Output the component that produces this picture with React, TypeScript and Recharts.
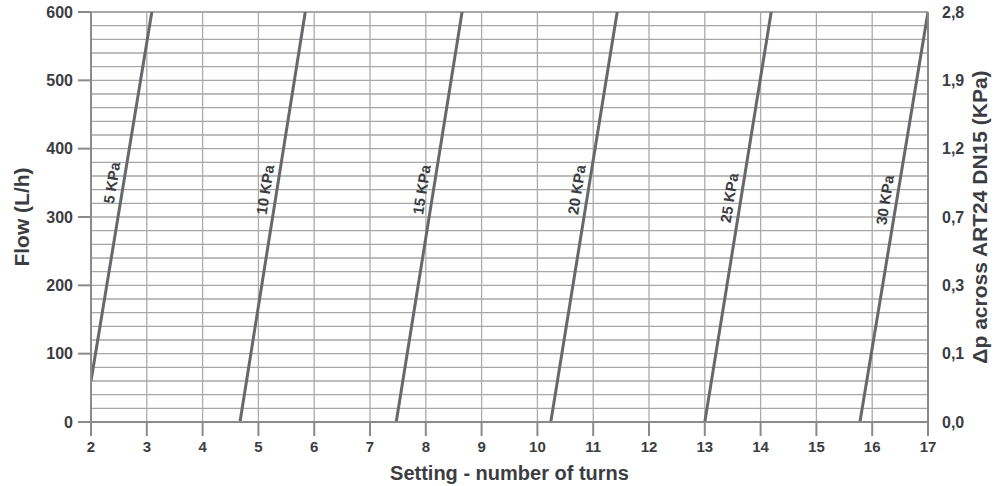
import React from "react";
import {
  ComposedChart,
  Line,
  XAxis,
  YAxis,
  ReferenceLine,
  ReferenceDot,
} from "recharts";

// turns axis
const turnTicks = [2, 3, 4, 5, 6, 7, 8, 9, 10, 11, 12, 13, 14, 15, 16, 17];
// flow axis
const flowTicks = [0, 100, 200, 300, 400, 500, 600];
const gridFlows = [20, 40, 60, 80, 100, 120, 140, 160, 180, 200, 220, 240, 260, 280, 300, 320, 340, 360, 380, 400, 420, 440, 460, 480, 500, 520, 540, 560, 580];
// right axis labels (Δp) at the same flow ticks
const dpLabels = ["0,0", "0,1", "0,3", "0,7", "1,2", "1,9", "2,8"];

// each curve: start / end point (turns, flow)
const curveNames = ["5 KPa", "10 KPa", "15 KPa", "20 KPa", "25 KPa", "30 KPa"];
const curveTurns = [
  [2.0, 3.09],
  [4.67, 5.84],
  [7.47, 8.65],
  [10.24, 11.43],
  [13.0, 14.19],
  [15.78, 17.0],
];
const curveFlows = [
  [60, 600],
  [0, 600],
  [0, 600],
  [0, 600],
  [0, 600],
  [0, 600],
];
// flow level where each curve's label sits
const labelFlows = [350, 340, 340, 340, 328, 325];

const TEXT = "#3b3d42";
const FONT = "'Liberation Sans', Arial, sans-serif";

const curves = curveNames.map((name, i) => ({
  name,
  points: curveTurns[i].map((x, j) => ({ x, y: curveFlows[i][j] })),
  labelY: labelFlows[i],
  labelX:
    curveTurns[i][0] +
    ((labelFlows[i] - curveFlows[i][0]) / (curveFlows[i][1] - curveFlows[i][0])) *
      (curveTurns[i][1] - curveTurns[i][0]),
}));

const RotLabel = (props: any) => {
  const { viewBox, value } = props;
  const cx = viewBox.x + viewBox.width / 2 - 12;
  const cy = viewBox.y + viewBox.height / 2;
  return (
    <text
      x={cx}
      y={cy}
      transform={`rotate(-81 ${cx} ${cy})`}
      textAnchor="middle"
      dominantBaseline="central"
      fill={TEXT}
      fontSize={15}
      fontWeight="bold"
      fontFamily={FONT}
    >
      {value}
    </text>
  );
};

const tickStyle = { fill: TEXT, fontSize: 16, fontWeight: "bold", fontFamily: FONT };
const titleStyle = { fill: TEXT, fontSize: 21, fontWeight: "bold", fontFamily: FONT, textAnchor: "middle" };

export default function App() {
  return (
    <div style={{ position: "absolute", left: 0, top: 0, background: "#fff" }}>
      <ComposedChart width={998} height={486} margin={{ top: 12, right: 0, bottom: 0, left: 0 }}>
        <XAxis
          type="number"
          dataKey="x"
          domain={[2, 17]}
          ticks={turnTicks}
          interval={0}
          allowDataOverflow
          stroke="#8a8a8a"
          strokeWidth={2}
          tickSize={14}
          tick={{ ...tickStyle, fontSize: 15, dy: 3 }}
          height={64}
          label={{
            value: "Setting - number of turns",
            position: "insideBottom",
            offset: 6,
            style: { ...titleStyle, fontSize: 20 },
          }}
        />
        <YAxis
          yAxisId="flow"
          type="number"
          domain={[0, 600]}
          ticks={flowTicks}
          interval={0}
          allowDataOverflow
          width={91}
          stroke="#8a8a8a"
          strokeWidth={2}
          tickSize={13}
          tick={{ ...tickStyle, dx: -3 }}
          label={{
            value: "Flow (L/h)",
            angle: -90,
            position: "insideLeft",
            offset: 22,
            style: titleStyle,
          }}
        />
        <YAxis
          yAxisId="dp"
          orientation="right"
          type="number"
          domain={[0, 600]}
          ticks={flowTicks}
          interval={0}
          allowDataOverflow
          width={70}
          stroke="#8a8a8a"
          strokeWidth={2}
          tickLine={false}
          tickMargin={8}
          tick={tickStyle}
          tickFormatter={(v: number) => dpLabels[flowTicks.indexOf(v)]}
          label={{
            value: "Δp across ART24 DN15 (KPa)",
            angle: -90,
            position: "insideRight",
            offset: 18,
            style: titleStyle,
          }}
        />
        {gridFlows.map((f) => (
          <ReferenceLine key={`h${f}`} yAxisId="flow" y={f} stroke="#a6a6a6" strokeWidth={1.3} />
        ))}
        <ReferenceLine yAxisId="flow" y={600} stroke="#8a8a8a" strokeWidth={1.5} />
        {turnTicks.slice(1, -1).map((t) => (
          <ReferenceLine key={`v${t}`} yAxisId="flow" x={t} stroke="#ababab" strokeWidth={1.3} />
        ))}
        {curves.map((c) => (
          <Line
            key={c.name}
            yAxisId="flow"
            data={c.points}
            dataKey="y"
            type="linear"
            stroke="#66686c"
            strokeWidth={3}
            dot={false}
            activeDot={false}
            isAnimationActive={false}
          />
        ))}
        {curves.map((c) => (
          <ReferenceDot
            key={`l${c.name}`}
            yAxisId="flow"
            x={c.labelX}
            y={c.labelY}
            r={0}
            fill="none"
            stroke="none"
            label={<RotLabel value={c.name} />}
          />
        ))}
      </ComposedChart>
    </div>
  );
}
